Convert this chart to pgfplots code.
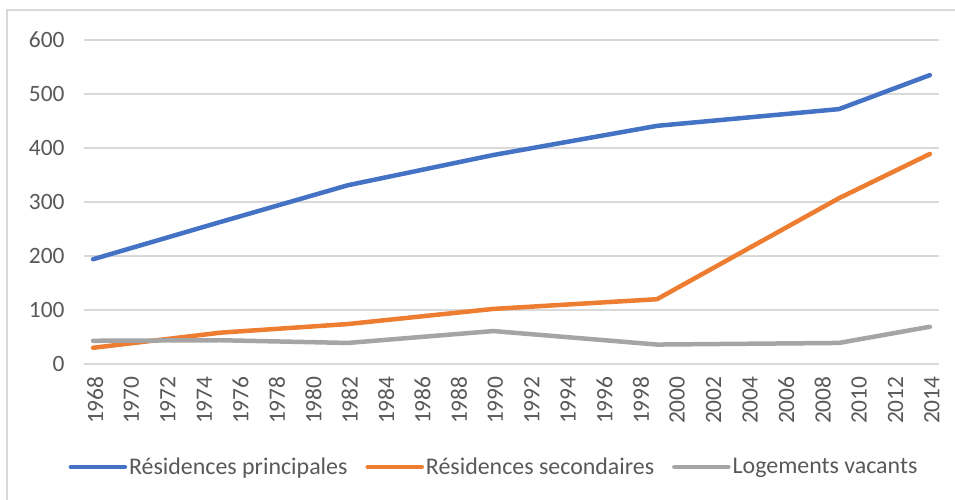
\documentclass[border=0pt]{standalone}
\usepackage{fontspec}
\setmainfont{Carlito}
\usepackage{pgfplots}
\pgfplotsset{compat=1.18}
\definecolor{cblue}{HTML}{4472C4}
\definecolor{corange}{HTML}{ED7D31}
\definecolor{cgray}{HTML}{A5A5A5}
\definecolor{ctext}{HTML}{595959}
\definecolor{cgrid}{HTML}{D9D9D9}
\begin{document}
\begin{tikzpicture}
\useasboundingbox (0,0) rectangle (955bp,500bp);
\fill[white] (0,0) rectangle (955bp,500bp);
\draw[cgrid, line width=1.2bp] (7bp,-5bp) -- (7bp,490bp) -- (960bp,490bp);
\begin{axis}[
  at={(84bp,136bp)}, anchor=south west,
  scale only axis, width=855bp, height=324bp,
  xmin=1967.5, xmax=2014.5, ymin=0, ymax=600,
  axis line style={draw=none},
  xtick={1968,1970,...,2014}, ytick={0,100,...,600},
  major tick length=0pt,
  ymajorgrids, grid style={cgrid, line width=1.4bp},
  /pgf/number format/assume math mode=true,
  /pgf/number format/1000 sep={},
  tick label style={font=\fontsize{23.5}{27}\selectfont, text=ctext},
  yticklabel style={xshift=-16bp},
  xticklabel style={rotate=90, anchor=east, xshift=-9bp, yshift=-2bp},
  legend style={at={(0.4795,-0.318)}, anchor=center, draw=none, fill=none,
    font=\fontsize{24}{28}\selectfont, text=ctext, legend columns=3,
    /tikz/every even column/.append style={column sep=16bp},
    inner sep=0pt},
  legend image code/.code={\draw[#1, line width=4.5bp, line cap=round] (0bp,0bp) -- (54bp,0bp);},
  every axis plot/.append style={line width=4.5bp, line join=round, line cap=round, mark=none},
]
\addplot[cblue] coordinates {(1968,194) (1975,263) (1982,331) (1990,387) (1999,441) (2009,472) (2014,535)};
\addlegendentry{Résidences principales}
\addplot[corange] coordinates {(1968,30) (1975,58) (1982,74) (1990,102) (1999,120) (2009,307) (2014,389)};
\addlegendentry{Résidences secondaires}
\addplot[cgray] coordinates {(1968,43) (1975,44) (1982,39) (1990,61) (1999,36) (2009,39) (2014,69)};
\addlegendentry{Logements vacants}
\end{axis}
\end{tikzpicture}
\end{document}
